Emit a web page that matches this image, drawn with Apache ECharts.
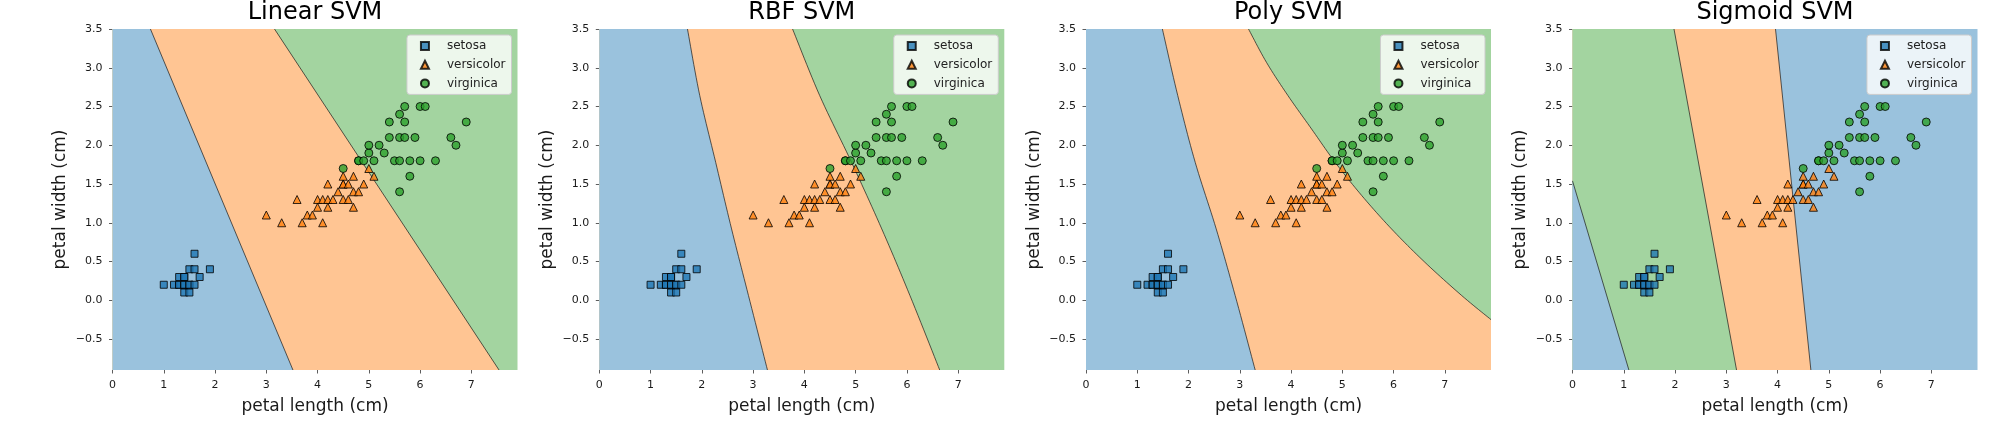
<!DOCTYPE html>
<html>
<head>
<meta charset="utf-8">
<title>SVM decision regions</title>
<script src="https://cdn.jsdelivr.net/npm/echarts@6/dist/echarts.min.js"></script>
<style>
  html, body { margin: 0; padding: 0; background: #fff; }
  #main { width: 2003px; height: 433px; }
</style>
</head>
<body>
<div id="main"></div>
<script>
var setosa = [
  [1.0, 0.2], [1.2, 0.2], [1.3, 0.2], [1.3, 0.2], [1.4, 0.2], [1.4, 0.2], [1.4, 0.2],
  [1.5, 0.2], [1.5, 0.2], [1.6, 0.2],
  [1.3, 0.3], [1.4, 0.3], [1.4, 0.3], [1.7, 0.3],
  [1.5, 0.4], [1.6, 0.4], [1.9, 0.4],
  [1.6, 0.6],
  [1.4, 0.1], [1.5, 0.1]
]
var versicolor = [
  [3.0, 1.1], [3.3, 1.0], [3.6, 1.3], [3.7, 1.0], [3.8, 1.1], [3.9, 1.1],
  [4.0, 1.3], [4.0, 1.2], [4.1, 1.3], [4.1, 1.0],
  [4.2, 1.5], [4.2, 1.3], [4.2, 1.2], [4.3, 1.3], [4.4, 1.4],
  [4.5, 1.6], [4.5, 1.5], [4.5, 1.5], [4.5, 1.3], [4.6, 1.5], [4.6, 1.3],
  [4.7, 1.6], [4.7, 1.4], [4.7, 1.2], [4.8, 1.4], [4.9, 1.5], [5.0, 1.7], [5.1, 1.6]
]
var virginica = [
  [4.5, 1.7], [4.8, 1.8], [4.8, 1.8], [4.9, 1.8], [5.1, 1.8], [5.5, 1.8], [5.6, 1.8],
  [5.8, 1.8], [6.0, 1.8], [6.3, 1.8],
  [5.0, 1.9], [5.3, 1.9],
  [5.0, 2.0], [5.2, 2.0], [6.7, 2.0],
  [5.4, 2.1], [5.6, 2.1], [5.7, 2.1], [5.9, 2.1], [6.6, 2.1],
  [5.4, 2.3], [5.7, 2.3], [6.9, 2.3],
  [5.6, 2.4],
  [5.7, 2.5], [6.0, 2.5], [6.1, 2.5],
  [5.8, 1.6], [5.6, 1.4]
]

var classNames = ['setosa', 'versicolor', 'virginica']
var titles = ['Linear SVM', 'RBF SVM', 'Poly SVM', 'Sigmoid SVM']

var xTicks = [0, 1, 2, 3, 4, 5, 6, 7]
var yTicks = [-0.5, 0.0, 0.5, 1.0, 1.5, 2.0, 2.5, 3.0, 3.5]
var xRange = [0, 7.9]
var yRange = [-0.9, 3.5]

// decision boundaries, from top of the plot downwards
var linearVersVirg = [[3.16, 3.5], [7.54, -0.9]]
var linearSetVers = [[0.74, 3.5], [3.52, -0.9]]

var rbfVersVirg = [[3.77, 3.5], [4.30, 2.64], [4.92, 1.78], [5.51, 0.92], [6.06, 0.06], [6.64, -0.9]]
var rbfSetVers = [[1.72, 3.5], [1.96, 2.64], [2.27, 1.78], [2.58, 0.92], [2.91, 0.06], [3.28, -0.9]]

var polyVersVirg = [[3.17, 3.5], [3.52, 3.07], [3.94, 2.64], [4.40, 2.21], [4.86, 1.78],
  [5.38, 1.35], [5.96, 0.92], [6.61, 0.49], [7.33, 0.06], [7.9, -0.25]]
var polySetVers = [[1.49, 3.5], [1.79, 2.64], [2.13, 1.78], [2.54, 0.92], [2.91, 0.06], [3.30, -0.9]]

var sigmoidVersSet = [[3.96, 3.5], [4.65, -0.9]]
var sigmoidVirgVers = [[1.98, 3.5], [3.20, -0.9]]
var sigmoidSetVirg = [[0, 1.54], [1.10, -0.9]]

// class painted on the right of everything, then each boundary with the class on its left
var panels = [
  { base: 'virginica', layers: [[linearVersVirg, 'versicolor'], [linearSetVers, 'setosa']] },
  { base: 'virginica', layers: [[rbfVersVirg, 'versicolor'], [rbfSetVers, 'setosa']] },
  { base: 'virginica', layers: [[polyVersVirg, 'versicolor'], [polySetVers, 'setosa']] },
  { base: 'setosa', layers: [[sigmoidVersSet, 'versicolor'], [sigmoidVirgVers, 'virginica'], [sigmoidSetVirg, 'setosa']] }
]

var FONT = 'DejaVu Sans'
var markColor = { setosa: '#1f77b4', versicolor: '#ff7f0e', virginica: '#2ca02c' }
var regionColor = { setosa: '#9ac2dd', versicolor: '#ffc593', virginica: '#a3d4a0' }
var markSymbol = { setosa: 'rect', versicolor: 'triangle', virginica: 'circle' }
var markSize = { setosa: 7, versicolor: 8, virginica: 8 }
var classData = { setosa: setosa, versicolor: versicolor, virginica: virginica }

var plotLeft = [112.5, 599.3, 1086, 1572.5]
var plotTop = 29
var plotW = 405
var plotH = 341

function tickText (v) {
  return (v < 0 ? '\u2212' : '') + Math.abs(v).toFixed(1)
}

// catmull-rom through the pixel points so the curved boundaries have no kinks
function smoothPath (pts) {
  if (pts.length < 3) return pts
  var out = []
  for (var i = 0; i < pts.length - 1; i++) {
    var p0 = pts[Math.max(i - 1, 0)], p1 = pts[i], p2 = pts[i + 1], p3 = pts[Math.min(i + 2, pts.length - 1)]
    for (var s = 0; s < 12; s++) {
      var t = s / 12, t2 = t * t, t3 = t2 * t
      out.push([0, 1].map(function (k) {
        return 0.5 * ((2 * p1[k]) + (-p0[k] + p2[k]) * t +
          (2 * p0[k] - 5 * p1[k] + 4 * p2[k] - p3[k]) * t2 +
          (-p0[k] + 3 * p1[k] - 3 * p2[k] + p3[k]) * t3)
      }))
    }
  }
  out.push(pts[pts.length - 1])
  return out
}

function regionRenderer (panel) {
  return function (params, api) {
    var layer = panel.layers[params.dataIndex]
    var edge = layer[0]
    var first = edge[0]
    var last = edge[edge.length - 1]
    var edgePx = smoothPath(edge.map(function (p) { return api.coord(p) }))
    var closing = [[last[0], yRange[0]], [xRange[0], yRange[0]], [xRange[0], yRange[1]], [first[0], yRange[1]]]
    var poly = edgePx.concat(closing.map(function (p) { return api.coord(p) }))
    return {
      type: 'group',
      children: [
        { type: 'polygon', shape: { points: poly }, style: { fill: regionColor[layer[1]] } },
        { type: 'polyline', shape: { points: edgePx }, style: { stroke: '#1a1a1a', lineWidth: 0.7, fill: null } }
      ]
    }
  }
}

var grids = [], xAxes = [], yAxes = [], series = [], legends = [], titleOpts = []

panels.forEach(function (panel, i) {
  var left = plotLeft[i]
  grids.push({
    left: left, top: plotTop, width: plotW, height: plotH,
    show: true, backgroundColor: regionColor[panel.base], borderWidth: 0,
    containLabel: false, outerBoundsMode: 'none'
  })
  xAxes.push({
    type: 'value', gridIndex: i, min: xRange[0], max: xRange[1],
    name: 'petal length (cm)', nameLocation: 'middle', nameGap: 28,
    nameTextStyle: { fontFamily: FONT, fontSize: 17, color: '#1a1a1a' },
    axisLine: { show: false, onZero: false },
    axisTick: { show: true, length: 3.5, customValues: xTicks, lineStyle: { color: '#333', width: 0.8 } },
    axisLabel: { margin: 10, customValues: xTicks, fontFamily: FONT, fontSize: 11, color: '#1a1a1a',
      formatter: function (v) { return String(v) } },
    splitLine: { show: false }
  })
  yAxes.push({
    type: 'value', gridIndex: i, min: yRange[0], max: yRange[1],
    name: 'petal width (cm)', nameLocation: 'middle', nameGap: 43,
    nameTextStyle: { fontFamily: FONT, fontSize: 17, color: '#1a1a1a' },
    axisLine: { show: false, onZero: false },
    axisTick: { show: true, length: 3.5, customValues: yTicks, lineStyle: { color: '#333', width: 0.8 } },
    axisLabel: { margin: 10, customValues: yTicks, fontFamily: FONT, fontSize: 11, color: '#1a1a1a',
      formatter: tickText },
    splitLine: { show: false }
  })
  titleOpts.push({
    text: titles[i], left: left + plotW / 2, top: 0, textAlign: 'center', padding: 0,
    textStyle: { fontFamily: FONT, fontSize: 24, fontWeight: 'normal', color: '#000', lineHeight: 26 }
  })
  series.push({
    type: 'custom', xAxisIndex: i, yAxisIndex: i, silent: true, z: 1,
    renderItem: regionRenderer(panel),
    data: panel.layers.map(function (l) { return l[0][0] })
  })
  classNames.forEach(function (cls) {
    series.push({
      name: cls, type: 'scatter', xAxisIndex: i, yAxisIndex: i, z: 3,
      symbol: markSymbol[cls], symbolSize: markSize[cls],
      itemStyle: { color: markColor[cls], borderColor: '#000', borderWidth: 1, opacity: 0.8 },
      data: classData[cls]
    })
  })
  legends.push({
    data: classNames, orient: 'vertical', right: 2003 - (left + plotW - 6), top: 35,
    backgroundColor: 'rgba(255,255,255,0.8)', borderColor: '#cccccc', borderWidth: 1, borderRadius: 3,
    padding: [5, 6, 5, 13], itemWidth: 8, itemHeight: 8, itemGap: 6.7,
    textStyle: { fontFamily: FONT, fontSize: 12, color: '#222', padding: [0, 0, 0, 13] }
  })
})

var chart = echarts.init(document.getElementById('main'), null, { renderer: 'canvas' })
chart.setOption({
  animation: false,
  title: titleOpts,
  grid: grids,
  xAxis: xAxes,
  yAxis: yAxes,
  legend: legends,
  series: series
})
</script>
</body>
</html>
